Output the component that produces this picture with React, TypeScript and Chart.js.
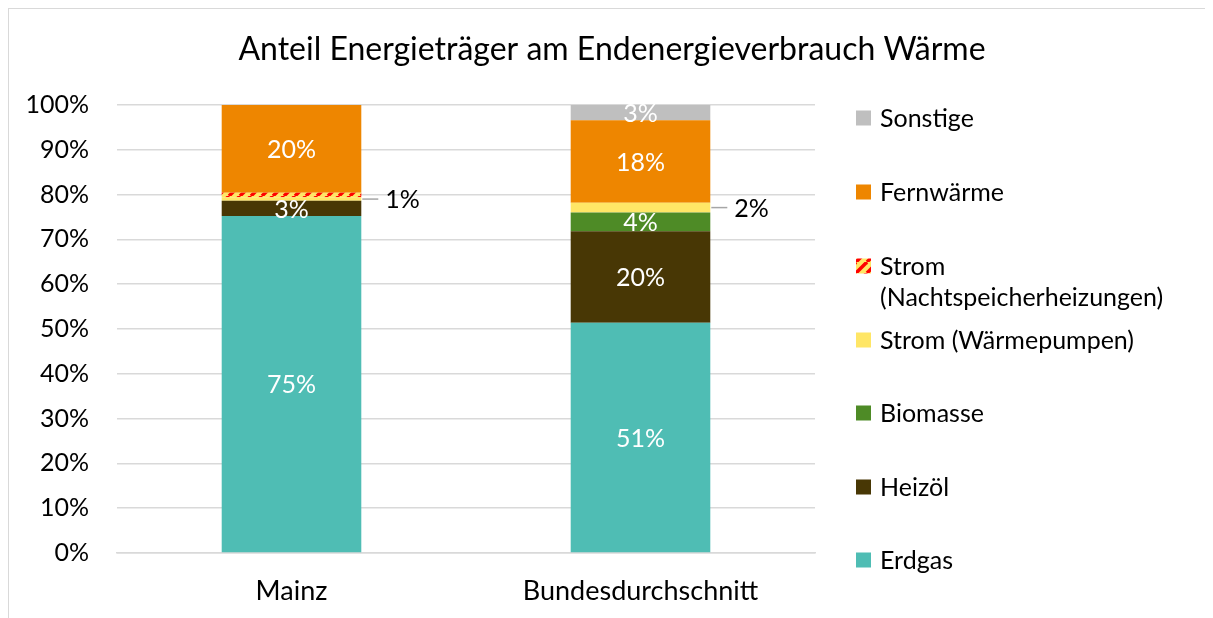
import React, { useEffect, useRef } from "react";
import { Chart, registerables } from "chart.js";

Chart.register(...registerables);

// ---- data ----
const categories = ["Mainz", "Bundesdurchschnitt"];
const erdgas = [75.2, 51.4];
const heizoel = [3.4, 20.4];
const biomasse = [0, 4.2];
const stromWaermepumpen = [0.8, 2.2];
const stromNachtspeicher = [1.0, 0];
const fernwaerme = [19.6, 18.4];
const sonstige = [0, 3.4];
const yTickStep = 10;
const titleText = "Anteil Energieträger am Endenergieverbrauch Wärme";

const FONT = "Lato, 'Open Sans', sans-serif";
const TEXT_SIZE = 25;
const XTICK_SIZE = 27;

function makeStripePattern(): CanvasPattern | string {
  const c = document.createElement("canvas");
  const s = 11;
  c.width = s;
  c.height = s;
  const g = c.getContext("2d");
  if (!g) return "#FFE666";
  g.fillStyle = "#FFE666";
  g.fillRect(0, 0, s, s);
  g.strokeStyle = "#FF0000";
  g.lineWidth = 3.5;
  for (let k = -1; k <= 1; k++) {
    g.beginPath();
    g.moveTo(k * s, s);
    g.lineTo(k * s + s, 0);
    g.stroke();
  }
  const p = g.createPattern(c, "repeat");
  return p || "#FFE666";
}

type LegendItem = { lines: string[]; color: any };

const overlayPlugin = {
  id: "overlay",
  afterDatasetsDraw(chart: any) {
    const ctx: CanvasRenderingContext2D = chart.ctx;
    ctx.save();
    ctx.font = `${TEXT_SIZE}px ${FONT}`;
    ctx.textBaseline = "middle";
    chart.data.datasets.forEach((ds: any, i: number) => {
      const meta = chart.getDatasetMeta(i);
      meta.data.forEach((el: any, j: number) => {
        const v = ds.data[j] as number;
        const mode = ds.labelModes[j];
        if (!v || mode === "none") return;
        const p = el.getProps(["x", "y", "base", "width"], true);
        const cy = (p.y + p.base) / 2;
        const txt = Math.round(v) + "%";
        if (mode === "inside") {
          ctx.fillStyle = "#FFFFFF";
          ctx.textAlign = "center";
          ctx.fillText(txt, p.x, cy + 1);
        } else if (mode === "callout") {
          const x0 = p.x + p.width / 2;
          ctx.strokeStyle = "#A6A6A6";
          ctx.lineWidth = 1.5;
          ctx.beginPath();
          ctx.moveTo(x0 + 1, cy);
          ctx.lineTo(x0 + 17, cy);
          ctx.stroke();
          ctx.fillStyle = "#000000";
          ctx.textAlign = "left";
          ctx.fillText(txt, x0 + 24, cy + 1);
        }
      });
    });
    ctx.restore();
  },
  afterDraw(chart: any) {
    const ctx: CanvasRenderingContext2D = chart.ctx;
    ctx.save();
    // title
    ctx.font = `32px ${FONT}`;
    ctx.fillStyle = "#000000";
    ctx.textAlign = "center";
    ctx.textBaseline = "middle";
    ctx.fillText(titleText, 603, 41);
    // legend
    const items: LegendItem[] = chart.options.plugins.customLegend.items;
    const ys = [109, 183, 257, 331, 404, 478, 551];
    ctx.font = `${TEXT_SIZE}px ${FONT}`;
    ctx.textAlign = "left";
    items.forEach((it, k) => {
      const y = ys[k];
      ctx.fillStyle = it.color;
      ctx.fillRect(847, y - 7.5, 15, 15);
      ctx.fillStyle = "#000000";
      it.lines.forEach((ln, m) => {
        ctx.fillText(ln, 871, y + 1 + m * 31);
      });
    });
    ctx.restore();
  },
};

export default function App() {
  const ref = useRef<HTMLCanvasElement | null>(null);

  useEffect(() => {
    document.body.style.overflow = "hidden";
    document.documentElement.style.overflow = "hidden";
    const canvas = ref.current;
    if (!canvas) return;
    const stripe = makeStripePattern();

    const colors = {
      erdgas: "#4FBDB4",
      heizoel: "#483705",
      biomasse: "#4E8B26",
      wp: "#FFE666",
      nsh: stripe,
      fern: "#EE8600",
      sonst: "#BFBFBF",
    };

    const datasets: any[] = [
      { label: "Erdgas", data: erdgas, backgroundColor: colors.erdgas, labelModes: ["inside", "inside"] },
      { label: "Heizöl", data: heizoel, backgroundColor: colors.heizoel, labelModes: ["inside", "inside"] },
      { label: "Biomasse", data: biomasse, backgroundColor: colors.biomasse, labelModes: ["inside", "inside"] },
      { label: "Strom (Wärmepumpen)", data: stromWaermepumpen, backgroundColor: colors.wp, labelModes: ["callout", "callout"] },
      { label: "Strom (Nachtspeicherheizungen)", data: stromNachtspeicher, backgroundColor: colors.nsh, labelModes: ["none", "none"] },
      { label: "Fernwärme", data: fernwaerme, backgroundColor: colors.fern, labelModes: ["inside", "inside"] },
      { label: "Sonstige", data: sonstige, backgroundColor: colors.sonst, labelModes: ["inside", "inside"] },
    ].map((d) => ({ ...d, barPercentage: 0.4, categoryPercentage: 1.0, borderWidth: 0 }));

    const legendItems: LegendItem[] = [
      { lines: ["Sonstige"], color: colors.sonst },
      { lines: ["Fernwärme"], color: colors.fern },
      { lines: ["Strom", "(Nachtspeicherheizungen)"], color: colors.nsh },
      { lines: ["Strom (Wärmepumpen)"], color: colors.wp },
      { lines: ["Biomasse"], color: colors.biomasse },
      { lines: ["Heizöl"], color: colors.heizoel },
      { lines: ["Erdgas"], color: colors.erdgas },
    ];

    const chart = new Chart(canvas, {
      type: "bar",
      data: { labels: categories, datasets },
      options: {
        responsive: false,
        animation: false,
        devicePixelRatio: 1,
        layout: { padding: { left: 0, right: 398, top: 96, bottom: 0 } },
        plugins: {
          legend: { display: false },
          title: { display: false },
          tooltip: { enabled: false },
          customLegend: { items: legendItems },
        } as any,
        scales: {
          x: {
            stacked: true,
            grid: { display: false, drawTicks: false },
            border: { color: "#D9D9D9", width: 1.5 },
            ticks: { font: { family: FONT, size: XTICK_SIZE }, color: "#000000", padding: 22 },
            afterFit(s: any) {
              s.height = 65;
            },
          },
          y: {
            stacked: true,
            min: 0,
            max: 100,
            grid: { color: "#D9D9D9", drawTicks: false, lineWidth: 1.5 },
            border: { display: false },
            ticks: {
              stepSize: yTickStep,
              callback: (v: any) => v + "%",
              font: { family: FONT, size: TEXT_SIZE },
              color: "#000000",
              padding: 28,
            },
            afterFit(s: any) {
              s.width = 108;
            },
          },
        },
      },
      plugins: [overlayPlugin],
    });
    return () => chart.destroy();
  }, []);

  return (
    <div style={{ border: "1px solid #D9D9D9", width: 1204, height: 609, background: "#fff" }}>
      <canvas ref={ref} width={1204} height={609} style={{ width: 1204, height: 609, display: "block" }} />
    </div>
  );
}
